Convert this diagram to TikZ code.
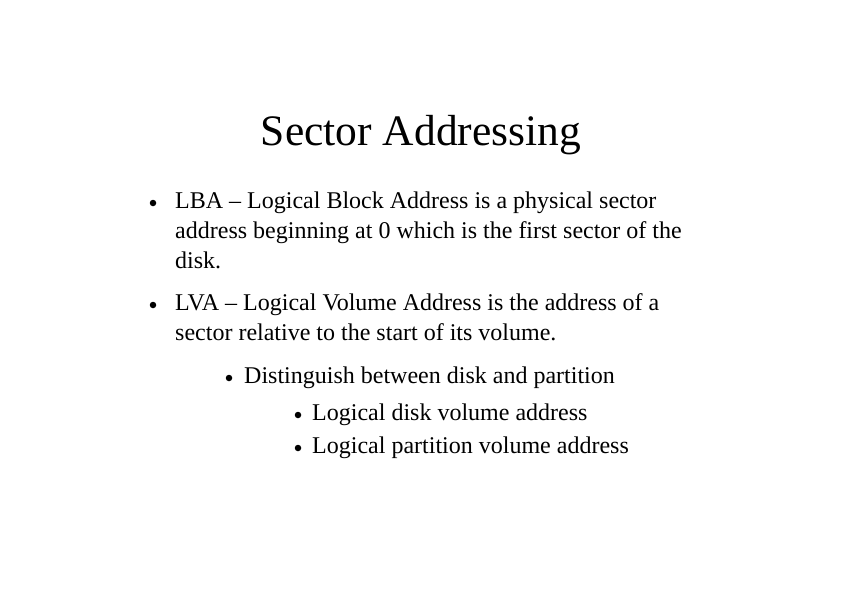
\documentclass[tikz,border=0pt]{standalone}
\usepackage{fontspec}
\setmainfont{Liberation Serif}
\begin{document}
\begin{tikzpicture}[x=1pt,y=-1pt,
  txt/.style={anchor=base west,inner sep=0pt,font=\fontsize{24}{30}\selectfont},
  dot/.style={circle,fill=black,inner sep=0pt,minimum size=6.5pt}]
\useasboundingbox (0,0) rectangle (842,595);
\node[anchor=base,inner sep=0pt,font=\fontsize{43.5}{48}\selectfont] (title) at (421,145) {Sector Addressing};
\node[dot] (b1) at (153,203) {};
\node[txt] (t1a) at (175,208) {LBA – Logical Block Address is a physical sector};
\node[txt] (t1b) at (175,238) {address beginning at 0 which is the first sector of the};
\node[txt] (t1c) at (175,268) {disk.};
\node[dot] (b2) at (153,305) {};
\node[txt] (t2a) at (175,310) {LVA – Logical Volume Address is the address of a};
\node[txt] (t2b) at (175,340) {sector relative to the start of its volume.};
\node[dot] (b3) at (229,378) {};
\node[txt] (t3) at (244,383) {Distinguish between disk and partition};
\node[dot] (b4) at (298,415) {};
\node[txt] (t4) at (312,420) {Logical disk volume address};
\node[dot] (b5) at (298,448) {};
\node[txt] (t5) at (312,453) {Logical partition volume address};
\end{tikzpicture}
\end{document}
